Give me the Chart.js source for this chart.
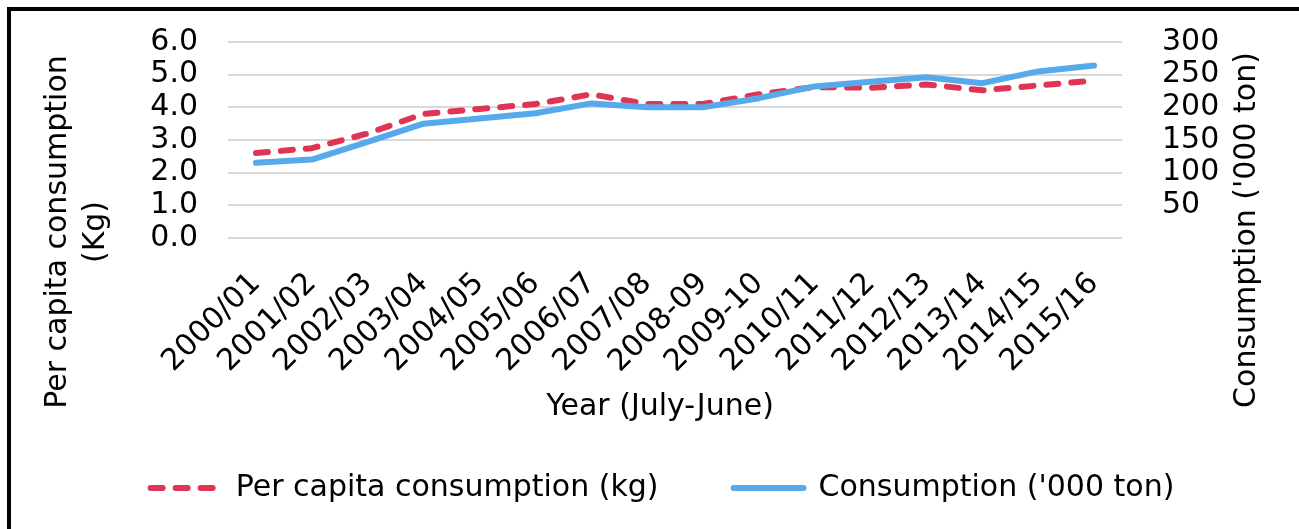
<!DOCTYPE html>
<html>
<head>
<meta charset="utf-8">
<script src="https://cdn.jsdelivr.net/npm/chart.js@4.4.1/dist/chart.umd.min.js"></script>
<style>
  html, body { margin: 0; padding: 0; background: #fff; overflow: hidden; }
  #frame { position: absolute; left: 7px; top: 7px; width: 1400px; height: 700px; border: 4px solid #000; box-sizing: border-box; }
  #wrap { position: absolute; left: 0; top: 0; width: 1299px; height: 529px; }
</style>
</head>
<body>
<div id="frame"></div>
<div id="wrap"><canvas id="c"></canvas></div>
<script>
// ---- data ----
const categories = ['2000/01','2001/02','2002/03','2003/04','2004/05','2005/06','2006/07','2007/08',
                    '2008-09','2009-10','2010/11','2011/12','2012/13','2013/14','2014/15','2015/16'];
const perCapitaKg   = [2.6, 2.75, 3.2, 3.8, 3.95, 4.1, 4.4, 4.1, 4.1, 4.4, 4.62, 4.6, 4.7, 4.52, 4.67, 4.82];
const consumptionKt = [115, 120, 147, 175, 183, 191, 206, 200, 200, 214, 232, 239, 246, 237, 255, 264];
const seriesNames   = ['Per capita consumption (kg)', "Consumption ('000 ton)"];
const leftTickLabels  = ['0.0', '1.0', '2.0', '3.0', '4.0', '5.0', '6.0'];
const rightTickLabels = ['', '50', '100', '150', '200', '250', '300'];
const xTitle     = 'Year (July-June)';
const leftTitle  = ['Per capita consumption', '(Kg)'];
const rightTitle = "Consumption ('000 ton)";

// ---- style ----
const RED = '#DF3453';
const BLUE = '#56AAEC';
const FAMILY = '"DejaVu Sans", sans-serif';
const FONT = { family: FAMILY, size: 30 };
Chart.defaults.font.family = FAMILY;
Chart.defaults.font.size = 30;
Chart.defaults.color = '#000';

const axisTitlePlugin = {
  id: 'axisTitles',
  afterDraw(chart) {
    const c = chart.ctx;
    c.save();
    c.font = '30px ' + FAMILY;
    c.fillStyle = '#000';
    c.textAlign = 'center';
    c.textBaseline = 'middle';
    c.fillText(xTitle, 660, 407);
    c.save();
    c.translate(58, 232);
    c.rotate(-Math.PI / 2);
    c.fillText(leftTitle[0], 0, 0);
    c.fillText(leftTitle[1], 0, 38);
    c.restore();
    c.save();
    c.translate(1247, 230);
    c.rotate(-Math.PI / 2);
    c.fillText(rightTitle, 0, 0);
    c.restore();
    c.restore();
  }
};

const fixVertical = w => s => { s.width = w; s.paddingTop = 0; s.paddingBottom = 0; };

new Chart(document.getElementById('c'), {
  type: 'line',
  data: {
    labels: categories,
    datasets: [
      {
        label: seriesNames[0], data: perCapitaKg, yAxisID: 'y', order: 1,
        borderColor: RED, backgroundColor: RED, borderWidth: 6,
        borderDash: [12, 13], borderCapStyle: 'round', borderJoinStyle: 'round',
        pointRadius: 0, tension: 0, fill: false
      },
      {
        label: seriesNames[1], data: consumptionKt, yAxisID: 'y1', order: 0,
        borderColor: BLUE, backgroundColor: BLUE, borderWidth: 6,
        borderCapStyle: 'round', borderJoinStyle: 'round',
        pointRadius: 0, tension: 0, fill: false
      }
    ]
  },
  options: {
    responsive: true,
    maintainAspectRatio: false,
    animation: false,
    layout: { padding: { left: 26, right: 0, top: 42, bottom: 16 } },
    plugins: {
      legend: {
        position: 'bottom',
        labels: {
          usePointStyle: true, pointStyle: 'line', pointStyleWidth: 70,
          padding: 75, font: FONT, color: '#000',
          sort: (a, b) => a.datasetIndex - b.datasetIndex,
          generateLabels: chart => {
            const items = Chart.defaults.plugins.legend.labels.generateLabels(chart);
            items.forEach(it => {
              const ds = chart.data.datasets[it.datasetIndex];
              it.lineDash = ds.borderDash || [];
              it.lineWidth = ds.borderWidth;
              it.lineCap = ds.borderCapStyle;
              it.strokeStyle = ds.borderColor;
              it.fillStyle = ds.borderColor;
              it.pointStyle = 'line';
            });
            return items;
          }
        }
      },
      tooltip: { enabled: false }
    },
    scales: {
      x: {
        offset: true,
        grid: { display: false, drawTicks: false },
        border: { display: false },
        ticks: { autoSkip: false, minRotation: 45, maxRotation: 45, padding: 28, font: FONT, color: '#000' },
        afterFit: s => { s.height = 160; }
      },
      y: {
        position: 'left', min: 0, max: 6,
        grid: { color: '#d9d9d9', lineWidth: 2, drawTicks: false },
        border: { display: false },
        ticks: { autoSkip: false, stepSize: 1, padding: 30, font: FONT, color: '#000',
                 callback: v => leftTickLabels[Math.round(v)] },
        afterFit: fixVertical(202)
      },
      y1: {
        position: 'right', min: 0, max: 300,
        grid: { display: false, drawTicks: false },
        border: { display: false },
        ticks: { autoSkip: false, stepSize: 50, padding: 40, font: FONT, color: '#000',
                 callback: v => rightTickLabels[Math.round(v / 50)] },
        afterFit: fixVertical(177)
      }
    }
  },
  plugins: [axisTitlePlugin]
});
</script>
</body>
</html>
